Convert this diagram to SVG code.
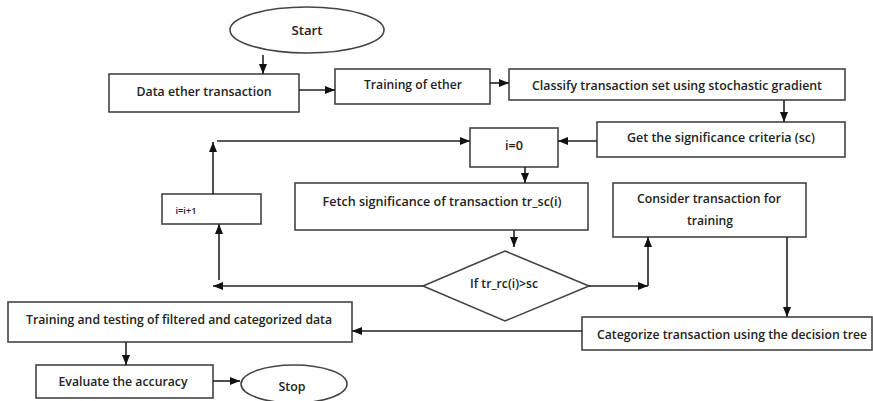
<svg xmlns="http://www.w3.org/2000/svg" width="873" height="401" viewBox="0 0 873 401">
<defs>
<marker id="ah" markerUnits="userSpaceOnUse" markerWidth="10" markerHeight="10" viewBox="0 0 10 10" refX="10" refY="5" orient="auto">
<path d="M0,1 L10,5 L0,9 Z" fill="#111"/>
</marker>
<style>
.box{fill:#fff;stroke:#444;stroke-width:1.6}
.t{font-family:"Open Sans","Liberation Sans",sans-serif;font-size:12.5px;font-weight:600;fill:#222;text-anchor:middle;dominant-baseline:central}
.c{fill:none;stroke:#222;stroke-width:1.6}
.ca{fill:none;stroke:#222;stroke-width:1.6;marker-end:url(#ah)}
</style>
</defs>
<rect width="873" height="401" fill="#fff"/>
<g id="start"><ellipse class="box" cx="307" cy="30" rx="77" ry="23"/><text class="t" x="307" y="30" textLength="31" lengthAdjust="spacingAndGlyphs">Start</text></g>
<g id="data"><rect class="box" x="109" y="74" width="190" height="38"/><text class="t" x="204" y="91" textLength="135" lengthAdjust="spacingAndGlyphs">Data ether transaction</text></g>
<g id="train"><rect class="box" x="335" y="69" width="155" height="35"/><text class="t" x="413" y="84" textLength="98" lengthAdjust="spacingAndGlyphs">Training of ether</text></g>
<g id="classify"><rect class="box" x="509" y="69" width="336" height="31"/><text class="t" x="677" y="85" textLength="290" lengthAdjust="spacingAndGlyphs">Classify transaction set using stochastic gradient</text></g>
<g id="getsc"><rect class="box" x="597" y="122" width="248" height="35"/><text class="t" x="721" y="137" textLength="188" lengthAdjust="spacingAndGlyphs">Get the significance criteria (sc)</text></g>
<g id="i0"><rect class="box" x="470" y="128" width="88" height="39"/><text class="t" x="514" y="145" textLength="18" lengthAdjust="spacingAndGlyphs">i=0</text></g>
<g id="inc"><rect class="box" x="162" y="194" width="99" height="30"/><text class="t" x="186" y="210" style="font-size:9px" textLength="21" lengthAdjust="spacingAndGlyphs">i=i+1</text></g>
<g id="fetch"><rect class="box" x="295" y="183" width="293" height="47"/><text class="t" x="442" y="201" textLength="239" lengthAdjust="spacingAndGlyphs">Fetch significance of transaction tr_sc(i)</text></g>
<g id="consider"><rect class="box" x="613" y="183" width="193" height="54"/><text class="t" x="709" y="198" textLength="144" lengthAdjust="spacingAndGlyphs">Consider transaction for</text><text class="t" x="710" y="220" textLength="46" lengthAdjust="spacingAndGlyphs">training</text></g>
<g id="decision"><polygon class="box" points="505,251 589,286 505,321 423,286"/><text class="t" x="504" y="283" textLength="68" lengthAdjust="spacingAndGlyphs">If tr_rc(i)&gt;sc</text></g>
<g id="categorize"><rect class="box" x="582" y="317" width="290" height="33"/><text class="t" x="732" y="334" textLength="270" lengthAdjust="spacingAndGlyphs">Categorize transaction using the decision tree</text></g>
<g id="tt"><rect class="box" x="8" y="302" width="344" height="40"/><text class="t" x="179" y="319" textLength="306" lengthAdjust="spacingAndGlyphs">Training and testing of filtered and categorized data</text></g>
<g id="eval"><rect class="box" x="36" y="365" width="177" height="33"/><text class="t" x="123" y="381" textLength="129" lengthAdjust="spacingAndGlyphs">Evaluate the accuracy</text></g>
<g id="stop"><ellipse class="box" cx="294" cy="384" rx="53" ry="19"/><text class="t" x="292" y="386" textLength="27" lengthAdjust="spacingAndGlyphs">Stop</text></g>
<g id="connectors">
<line class="ca" x1="263" y1="55" x2="263" y2="74"/>
<line class="ca" x1="299" y1="90" x2="335" y2="90"/>
<line class="ca" x1="490" y1="83" x2="509" y2="83"/>
<line class="ca" x1="784" y1="100" x2="784" y2="122"/>
<line class="ca" x1="597" y1="141" x2="558" y2="141"/>
<line class="ca" x1="217" y1="141" x2="470" y2="141"/>
<line class="ca" x1="213" y1="194" x2="213" y2="142"/>
<line class="ca" x1="525" y1="167" x2="525" y2="183"/>
<line class="ca" x1="514" y1="230" x2="514" y2="247"/>
<line class="ca" x1="423" y1="286" x2="213" y2="286"/>
<line class="ca" x1="219" y1="280" x2="219" y2="224"/>
<line class="ca" x1="589" y1="286" x2="648" y2="286"/>
<line class="ca" x1="648" y1="286" x2="648" y2="237"/>
<line class="ca" x1="787" y1="237" x2="787" y2="317"/>
<line class="ca" x1="582" y1="331" x2="352" y2="331"/>
<line class="ca" x1="126" y1="342" x2="126" y2="365"/>
<line class="ca" x1="213" y1="381" x2="240" y2="381"/>
</g>
</svg>
